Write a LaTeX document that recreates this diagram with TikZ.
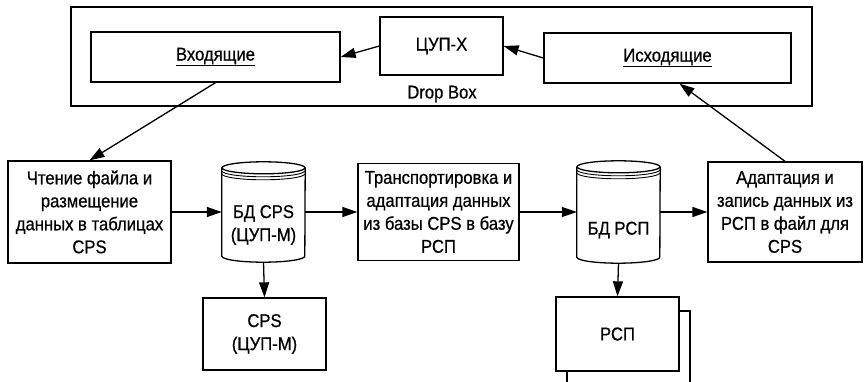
\documentclass[tikz,border=0pt]{standalone}
\usepackage{fontspec}
\setmainfont{Liberation Sans}[FakeStretch=0.9, FakeBold=0.7]
\usetikzlibrary{arrows.meta, positioning, calc}

\begin{document}
\begin{tikzpicture}[
    x=1pt, y=-1pt,
    every node/.style={font=\fontsize{18.5}{23}\selectfont, align=center},
    box/.style={rectangle, draw, line width=1.3pt, inner sep=2pt},
    dbase/.style={rectangle, minimum width=83pt, minimum height=100pt, inner sep=0pt},
    arrow/.style={-{Triangle[length=15pt,width=10pt]}, line width=1.3pt}
]
\useasboundingbox (0,0) rectangle (867,382);

\node[box, minimum width=741pt, minimum height=99pt] (dropbox) at (441.5,56.5) {};
\node (droplabel) at (442,94) {Drop Box};
\node[box, minimum width=249pt, minimum height=50pt] (inbox) at (215.5,57) {\underline{Входящие}};
\node[box, minimum width=123pt, minimum height=58pt] (cupx) at (441.5,46) {ЦУП-Х};
\node[box, minimum width=247pt, minimum height=50pt] (outbox) at (667.5,58) {\underline{Исходящие}};

\node[box, minimum width=163pt, minimum height=102pt] (read) at (89.5,212) {Чтение файла и\\размещение\\данных в таблицах\\CPS};
\node[dbase] (dbcps) at (263.5,212) {};
\node (dbcpstext) at ([yshift=-13pt]dbcps.center) {БД CPS\\(ЦУП-М)};
\node[box, minimum width=161pt, minimum height=97pt] (transp) at (438.5,212) {Транспортировка и\\адаптация данных\\из базы CPS в базу\\РСП};
\node[dbase, minimum height=102pt] (dbrsp) at (618.5,212) {};
\node (dbrsptext) at ([yshift=-18pt]dbrsp.center) {БД РСП};
\node[box, minimum width=154pt, minimum height=100pt] (adapt) at (785,212) {Адаптация и\\запись данных из\\РСП в файл для\\CPS};

\node[box, minimum width=123pt, minimum height=72pt] (cpsm) at (264.5,334) {CPS\\(ЦУП-М)};
\node[box, minimum width=123pt, minimum height=74pt] (rspback) at (628.5,348) {};
\node[box, fill=white, minimum width=123pt, minimum height=74pt] (rsp) at (617.5,334) {РСП};

\foreach \n in {dbcps,dbrsp} {
  \draw[line width=1.3pt] ([yshift=-6pt]\n.north west) -- ([yshift=6pt]\n.south west)
      arc[start angle=180, end angle=360, x radius=41.5pt, y radius=6pt]
      -- ([yshift=-6pt]\n.north east);
  \draw[line width=1.3pt] ([yshift=-6pt]\n.north) ellipse[x radius=41.5pt, y radius=6pt];
  \foreach \d in {9,12}
    \draw[line width=0.9pt] ([yshift=-\d pt]\n.north west)
        arc[start angle=180, end angle=360, x radius=41.5pt, y radius=6pt];
}

\draw[arrow] (cupx.west) -- (inbox.east);
\draw[arrow] (outbox.west) -- (cupx.east);
\draw[arrow] (inbox.south) -- (read.north);
\draw[arrow] (adapt.north) -- ([xshift=12pt]outbox.south);
\draw[arrow] (read.east) -- (dbcps.west);
\draw[arrow] (dbcps.east) -- (transp.west);
\draw[arrow] (transp.east) -- (dbrsp.west);
\draw[arrow] (dbrsp.east) -- (adapt.west);
\draw[arrow] (dbcps.south) -- (cpsm.north);
\draw[arrow] (dbrsp.south) -- (rsp.north);
\end{tikzpicture}
\end{document}
